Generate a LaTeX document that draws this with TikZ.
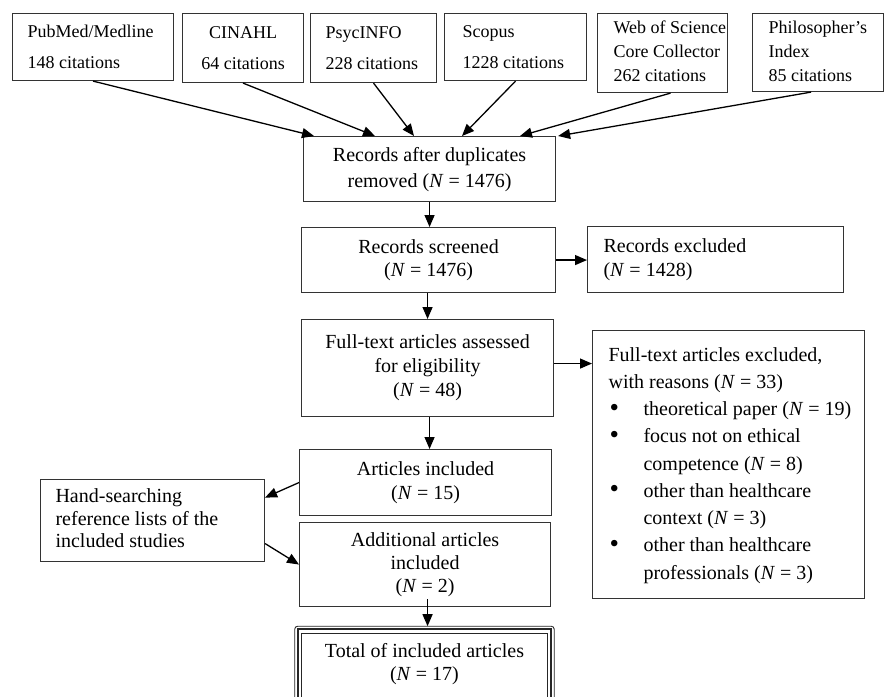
\documentclass[tikz,border=0pt]{standalone}
\usepackage{fontspec}
\usepackage{graphicx}
\setmainfont{Liberation Serif}
\usetikzlibrary{arrows.meta}
\newcommand{\lefttext}[3]{\makebox[#1][l]{\hspace*{#2}\begin{tabular}{@{}l@{}}#3\end{tabular}}}
\newcommand{\ctext}[1]{\begin{tabular}{@{}c@{}}#1\end{tabular}}
\newcommand{\Nq}{\textit{N}~=~}
\newcommand{\bul}{\makebox[35pt][l]{\hspace*{1pt}\raisebox{-0.5pt}{\scalebox{1.35}{\textbullet}}}}
\begin{document}
\begin{tikzpicture}[x=1pt,y=-1pt,
  box/.style={draw=black!80, line width=1.1pt, inner sep=0pt, anchor=north west},
  arr/.style={draw=black, line width=1.3pt, -{Triangle[length=12pt,width=10pt]}},
  tfont/.style={font=\fontsize{18}{#1}\selectfont},
  mfont/.style={font=\fontsize{20}{#1}\selectfont}]
\fill[white] (0,0) rectangle (885,696);
\useasboundingbox (0,0) rectangle (885,696);
% top sources
\node[box, tfont=31, minimum width=161pt, minimum height=67pt] (pub) at (12,13) {\lefttext{161pt}{15pt}{PubMed/Medline\\148 citations}};
\node[box, tfont=31, minimum width=121pt, minimum height=69pt] (cin) at (182,13) {\ctext{CINAHL\\64 citations}};
\node[box, tfont=31, minimum width=126pt, minimum height=69pt] (psy) at (310,13) {\lefttext{126pt}{15pt}{PsycINFO\\228 citations}};
\node[box, tfont=31, minimum width=142pt, minimum height=67pt] (sco) at (444,13) {\lefttext{142pt}{18pt}{Scopus\\1228 citations}};
\node[box, tfont=24, minimum width=130pt, minimum height=79pt] (wos) at (597,13) {\lefttext{130pt}{16pt}{Web of Science\\Core Collector\\262 citations}};
\node[box, tfont=24, minimum width=131pt, minimum height=78pt] (phi) at (752,13) {\lefttext{131pt}{16pt}{Philosopher's\\Index\\85 citations}};
% main flow
\node[box, mfont=26.7, minimum width=252pt, minimum height=65pt] (dup) at (303,136) {\ctext{Records after duplicates\\removed (\Nq1476)}};
\node[box, mfont=23.5, minimum width=254pt, minimum height=65pt] (scr) at (301,227) {\ctext{Records screened\\(\Nq1476)}};
\node[box, mfont=24, minimum width=256pt, minimum height=66pt] (exc) at (587,226) {\lefttext{256pt}{16pt}{Records excluded\\(\Nq1428)}};
\node[box, mfont=24, minimum width=252pt, minimum height=97pt] (fta) at (301,319) {\ctext{Full-text articles assessed\\for eligibility\\(\Nq48)}};
\node[box, mfont=27.25, minimum width=272pt, minimum height=268pt] (fte) at (592,330) {\makebox[272pt][l]{\hspace*{16pt}\begin{tabular}{@{}l@{}l@{}}
\multicolumn{2}{@{}l@{}}{Full-text articles excluded,}\\
\multicolumn{2}{@{}l@{}}{with reasons (\Nq33)}\\
\bul & theoretical paper (\Nq19)\\
\bul & focus not on ethical\\
 & competence (\Nq8)\\
\bul & other than healthcare\\
 & context (\Nq3)\\
\bul & other than healthcare\\
 & professionals (\Nq3)
\end{tabular}}};
\node[box, mfont=24, minimum width=252pt, minimum height=66pt] (inc) at (299,449) {\ctext{Articles included\\(\Nq15)}};
\node[box, mfont=22.5, minimum width=224pt, minimum height=82pt] (hand) at (40,479) {\lefttext{224pt}{15pt}{Hand-searching\\reference lists of the\\included studies}};
\node[box, mfont=23, minimum width=251pt, minimum height=84pt] (add) at (299,522) {\ctext{Additional articles\\included\\(\Nq2)}};
\node[inner sep=0pt, anchor=north west, mfont=23, minimum width=245.5pt, minimum height=63pt] (tot) at (301.5,633) {\ctext{Total of included articles\\(\Nq17)}};
% triple frame of the final box
\draw[black!85, line width=1pt] (tot.north west) rectangle ([yshift=-40pt]tot.south east);
\draw[black!85, line width=2pt] ([shift={(-4pt,4pt)}]tot.north west) rectangle ([shift={(4pt,-40pt)}]tot.south east);
\draw[black!85, line width=0.9pt, rounded corners=3pt] ([shift={(-6.8pt,6.8pt)}]tot.north west) coordinate (totouter) rectangle ([shift={(6.8pt,-40pt)}]tot.south east);
% connectors
\draw[arr] (pub.south) -- ([xshift=11pt]dup.north west);
\draw[arr] (cin.south) -- ([xshift=72pt]dup.north west);
\draw[arr] (psy.south) -- ([xshift=111pt]dup.north west);
\draw[arr] (sco.south) -- ([xshift=159pt]dup.north west);
\draw[arr] ([xshift=8pt]wos.south) -- ([xshift=217pt]dup.north west);
\draw[arr] ([xshift=-7pt]phi.south) -- ([xshift=2pt]dup.north east);
\draw[arr] (dup.south) -- (dup.south |- scr.north);
\draw[arr] (scr.east) -- (scr.east -| exc.west);
\draw[arr] (fta.north |- scr.south) -- (fta.north);
\draw[arr] ([yshift=4.5pt]fta.east) coordinate (fa) -- (fa -| fte.west);
\draw[arr] ([xshift=2pt]fta.south) coordinate (fb) -- (fb |- inc.north);
\draw[arr] (inc.west) -- ([yshift=23pt]hand.east);
\draw[arr] ([yshift=-23pt]hand.east) -- (add.west);
\draw[arr] ([xshift=2.5pt,yshift=8pt]add.south) coordinate (fc) -- (fc |- totouter);
\end{tikzpicture}
\end{document}
